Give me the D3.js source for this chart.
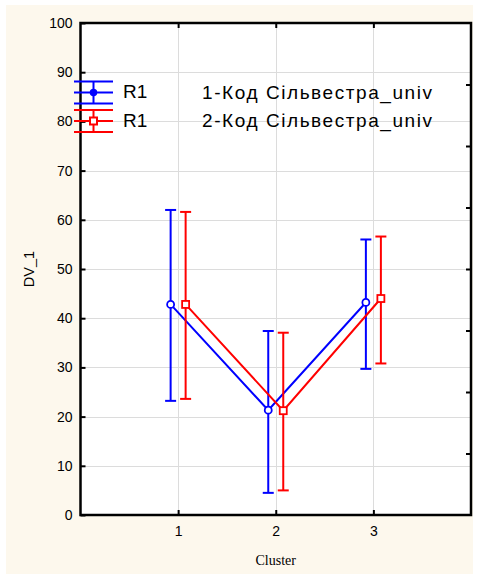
<!DOCTYPE html>
<html>
<head>
<meta charset="utf-8">
<script src="https://cdn.jsdelivr.net/npm/d3@7"></script>
<style>
  html, body { margin: 0; padding: 0; background: #ffffff; }
  svg { display: block; }
</style>
</head>
<body>
<script>
// ---- data ----
const clusters = [1, 2, 3];
const yTicks = [0, 10, 20, 30, 40, 50, 60, 70, 80, 90, 100];
const seriesNames = ["R1", "R1"];
const seriesLabels = ["1-Код Сільвестра_univ", "2-Код Сільвестра_univ"];
const mean1 = [42.8, 21.3, 43.2];
const upper1 = [62.0, 37.4, 56.0];
const lower1 = [23.2, 4.5, 29.7];
const mean2 = [42.8, 21.2, 44.0];
const upper2 = [61.6, 37.05, 56.6];
const lower2 = [23.6, 5.0, 30.8];
const xLabel = "Cluster";
const yLabel = "DV_1";

const W = 479, H = 575;
const L = 80.5, R = 471, T = 23, B = 515;
const svg = d3.select("body").append("svg").attr("width", W).attr("height", H);

svg.append("rect").attr("x", 6).attr("y", 5).attr("width", 467).attr("height", 569)
  .attr("fill", "#fdf8ed");
svg.append("rect").attr("x", L).attr("y", T).attr("width", R - L).attr("height", B - T)
  .attr("fill", "#ffffff");

const x = d3.scaleLinear().domain([0, 4]).range([L, R]);
const y = d3.scaleLinear().domain([0, 100]).range([B, T]);
const y2 = d3.scaleLinear().domain([0, 8]).range([B, T]);

// grid
const grid = svg.append("g").attr("stroke", "#dcdcdc").attr("stroke-width", 1);
yTicks.filter(v => v > 0 && v < 100).forEach(v => {
  grid.append("line").attr("x1", L).attr("x2", R).attr("y1", Math.round(y(v)) + 0.5).attr("y2", Math.round(y(v)) + 0.5);
});
clusters.forEach(c => {
  grid.append("line").attr("y1", T).attr("y2", B).attr("x1", Math.round(x(c)) + 0.5).attr("x2", Math.round(x(c)) + 0.5);
});

// axes
const font = "'Liberation Sans', Arial, sans-serif";
const yAxis = svg.append("g").attr("transform", `translate(${L},0)`)
  .call(d3.axisLeft(y).tickValues(yTicks).tickSizeInner(-5).tickSizeOuter(0).tickPadding(8));
const xAxis = svg.append("g").attr("transform", `translate(0,${B})`)
  .call(d3.axisBottom(x).tickValues(clusters).tickFormat(d3.format("d")).tickSizeInner(-5).tickSizeOuter(0).tickPadding(11));
const xTop = svg.append("g").attr("transform", `translate(0,${T})`)
  .call(d3.axisTop(x).tickValues(clusters).tickFormat("").tickSizeInner(-5).tickSizeOuter(0));
const yRight = svg.append("g").attr("transform", `translate(${R},0)`)
  .call(d3.axisRight(y2).tickValues([1, 2, 3, 4, 5, 6, 7]).tickFormat("").tickSizeInner(-5).tickSizeOuter(0));

[yAxis, xAxis, xTop, yRight].forEach(g => {
  g.select(".domain").remove();
  g.selectAll(".tick line").attr("stroke", "#000").attr("stroke-width", 2);
  g.selectAll("text").attr("font-family", font).attr("font-size", 14).attr("fill", "#000");
});

// frame
svg.append("rect").attr("x", L).attr("y", T).attr("width", R - L).attr("height", B - T)
  .attr("fill", "none").attr("stroke", "#000").attr("stroke-width", 2.5);

// axis labels
svg.append("text").attr("transform", `translate(34,${(T + B) / 2}) rotate(-90)`)
  .attr("text-anchor", "middle").attr("font-family", font).attr("font-size", 14.5)
  .text(yLabel);
svg.append("text").attr("x", (L + R) / 2).attr("y", 565)
  .attr("text-anchor", "middle").attr("font-family", "'Liberation Serif', 'Times New Roman', serif").attr("font-size", 14)
  .text(xLabel);

// series
const series = [
  { mean: mean1, up: upper1, lo: lower1, color: "#0000ff", off: -7.5, marker: "circle" },
  { mean: mean2, up: upper2, lo: lower2, color: "#ff0000", off: 7.5, marker: "square" }
];
const capW = 5.5;
series.forEach(s => {
  const g = svg.append("g");
  const pts = clusters.map((c, i) => [x(c) + s.off, y(s.mean[i])]);
  g.append("path").attr("d", d3.line()(pts)).attr("fill", "none")
    .attr("stroke", s.color).attr("stroke-width", 2);
  clusters.forEach((c, i) => {
    const cx = x(c) + s.off;
    g.append("line").attr("x1", cx).attr("x2", cx).attr("y1", y(s.up[i])).attr("y2", y(s.lo[i]))
      .attr("stroke", s.color).attr("stroke-width", 2);
    [s.up[i], s.lo[i]].forEach(v => {
      g.append("line").attr("x1", cx - capW).attr("x2", cx + capW).attr("y1", y(v)).attr("y2", y(v))
        .attr("stroke", s.color).attr("stroke-width", 2);
    });
    if (s.marker === "circle") {
      g.append("circle").attr("cx", cx).attr("cy", y(s.mean[i])).attr("r", 3.5)
        .attr("fill", "#fff").attr("stroke", s.color).attr("stroke-width", 1.8);
    } else {
      g.append("rect").attr("x", cx - 3.5).attr("y", y(s.mean[i]) - 3.5).attr("width", 7).attr("height", 7)
        .attr("fill", "#fff").attr("stroke", s.color).attr("stroke-width", 1.8);
    }
  });
});

// legend
const legY = [92.5, 121];
series.forEach((s, k) => {
  const g = svg.append("g");
  const cy = legY[k];
  [-11, 0, 11].forEach(d => {
    g.append("line").attr("x1", 74).attr("x2", 113).attr("y1", cy + d).attr("y2", cy + d)
      .attr("stroke", s.color).attr("stroke-width", 2);
  });
  g.append("line").attr("x1", 93.5).attr("x2", 93.5).attr("y1", cy - 11).attr("y2", cy + 11)
    .attr("stroke", s.color).attr("stroke-width", 2);
  if (s.marker === "circle") {
    g.append("circle").attr("cx", 93.5).attr("cy", cy).attr("r", 3)
      .attr("fill", s.color).attr("stroke", s.color).attr("stroke-width", 1.5);
  } else {
    g.append("rect").attr("x", 90).attr("y", cy - 3.5).attr("width", 7).attr("height", 7)
      .attr("fill", "#fff").attr("stroke", s.color).attr("stroke-width", 2);
  }
  g.append("text").attr("x", 123).attr("y", cy + 5.5).attr("font-family", font).attr("font-size", 19)
    .text(seriesNames[k]);
  g.append("text").attr("x", 202).attr("y", cy + 6).attr("font-family", font).attr("font-size", 19)
    .attr("textLength", 230).attr("lengthAdjust", "spacing")
    .text(seriesLabels[k]);
});
</script>
</body>
</html>
